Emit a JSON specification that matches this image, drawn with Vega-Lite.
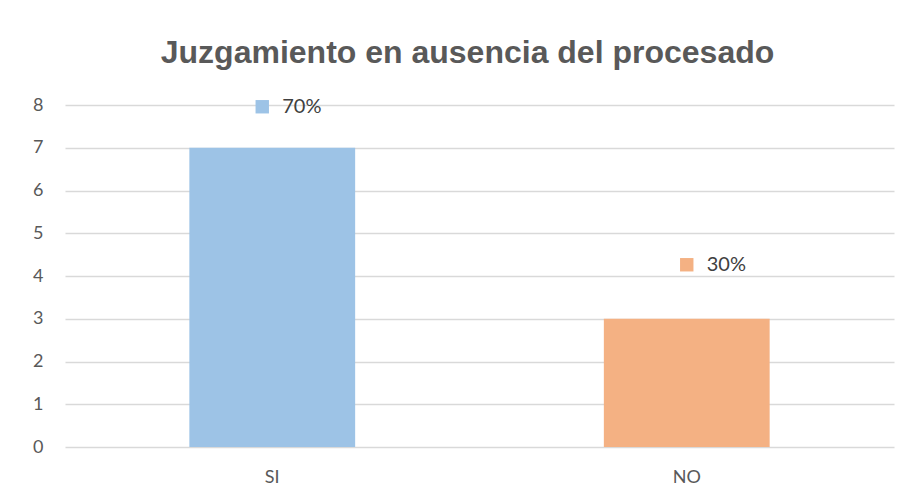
{
  "$schema": "https://vega.github.io/schema/vega-lite/v6.json",
  "width": 829,
  "height": 342,
  "autosize": "none",
  "padding": {"left": 65, "top": 105, "right": 16, "bottom": 55},
  "background": "white",
  "title": {
    "text": "Juzgamiento en ausencia del procesado",
    "font": "Liberation Sans",
    "fontWeight": "bold",
    "fontSize": 32,
    "color": "#595959",
    "anchor": "middle",
    "frame": "group",
    "baseline": "alphabetic",
    "offset": 42,
    "dy": 41,
    "dx": -12
  },
  "data": {
    "values": [
      {"cat": "SI", "n": 7, "pct": "70%"},
      {"cat": "NO", "n": 3, "pct": "30%"}
    ]
  },
  "config": {
    "view": {"stroke": null},
    "axis": {
      "labelFont": "Lato",
      "labelFontSize": 18,
      "labelColor": "#595959",
      "domain": false,
      "ticks": false,
      "title": null
    }
  },
  "encoding": {
    "x": {
      "field": "cat",
      "type": "nominal",
      "sort": null,
      "scale": {"paddingInner": 0.6, "paddingOuter": 0.3},
      "axis": {"labelAngle": 0, "labelPadding": 21, "grid": false}
    },
    "y": {
      "field": "n",
      "type": "quantitative",
      "scale": {"domain": [0, 8], "nice": false},
      "axis": {
        "values": [0, 1, 2, 3, 4, 5, 6, 7, 8],
        "grid": true,
        "gridColor": "#d9d9d9",
        "gridWidth": 1.5,
        "labelPadding": 22
      }
    },
    "color": {
      "field": "cat",
      "type": "nominal",
      "scale": {"domain": ["SI", "NO"], "range": ["#9DC3E6", "#F4B183"]},
      "legend": null
    }
  },
  "layer": [
    {
      "mark": {"type": "bar"}
    },
    {
      "transform": [{"filter": "datum.cat === 'SI'"}],
      "mark": {"type": "point", "shape": "square", "filled": true, "size": 180, "opacity": 1, "xOffset": -10, "yOffset": -41}
    },
    {
      "transform": [{"filter": "datum.cat === 'NO'"}],
      "mark": {"type": "point", "shape": "square", "filled": true, "size": 180, "opacity": 1, "xOffset": 0, "yOffset": -54}
    },
    {
      "transform": [{"filter": "datum.cat === 'SI'"}],
      "mark": {"type": "text", "align": "left", "baseline": "middle", "font": "Lato", "fontSize": 20, "xOffset": 10, "yOffset": -41},
      "encoding": {"text": {"field": "pct"}, "color": {"value": "#404040"}}
    },
    {
      "transform": [{"filter": "datum.cat === 'NO'"}],
      "mark": {"type": "text", "align": "left", "baseline": "middle", "font": "Lato", "fontSize": 20, "xOffset": 20, "yOffset": -54},
      "encoding": {"text": {"field": "pct"}, "color": {"value": "#404040"}}
    }
  ]
}
